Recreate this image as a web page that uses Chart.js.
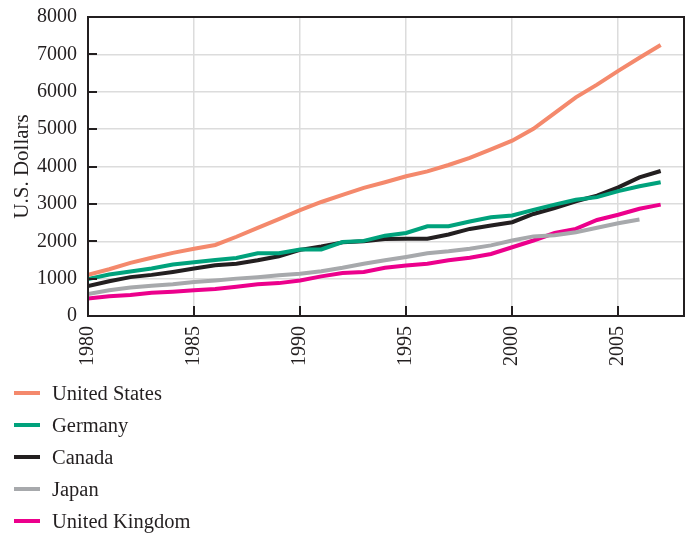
<!DOCTYPE html>
<html><head><meta charset="utf-8">
<script src="https://cdn.jsdelivr.net/npm/chart.js@4/dist/chart.umd.min.js"></script>
<style>
html,body{margin:0;padding:0;background:#fff;}
#wrap{position:relative;width:691px;height:535px;}
canvas{position:absolute;left:0;top:0;}
#legend{position:absolute;left:14px;top:377px;font-family:"Liberation Serif",serif;font-size:20.5px;color:#231f20;}
.item{display:flex;align-items:center;height:32px;white-space:nowrap;}
.sw{width:26px;height:4px;margin-right:12px;}
</style></head><body>
<div id="wrap"><canvas id="c" width="691" height="535"></canvas><div id="legend"></div></div>
<script>
const years = [1980,1981,1982,1983,1984,1985,1986,1987,1988,1989,1990,1991,1992,1993,1994,1995,1996,1997,1998,1999,2000,2001,2002,2003,2004,2005,2006,2007];
const unitedStates = [1100,1250,1420,1560,1690,1800,1900,2120,2360,2590,2830,3050,3240,3430,3580,3740,3870,4040,4230,4460,4690,5010,5430,5850,6190,6560,6910,7250];
const germany = [990,1110,1190,1270,1380,1440,1500,1550,1680,1680,1780,1780,1980,2010,2150,2220,2400,2400,2530,2640,2690,2840,2980,3110,3180,3340,3470,3580];
const canada = [800,930,1040,1100,1180,1270,1360,1400,1490,1600,1770,1860,1970,2000,2060,2070,2070,2180,2330,2420,2510,2730,2890,3070,3220,3440,3710,3880];
const japan = [590,690,760,810,850,910,950,1000,1040,1090,1130,1200,1290,1400,1490,1580,1680,1730,1800,1890,2020,2130,2160,2240,2360,2480,2580];
const unitedKingdom = [470,530,560,620,650,690,720,780,850,880,950,1060,1150,1180,1290,1350,1400,1490,1560,1660,1840,2020,2220,2330,2570,2710,2870,2980];
const seriesNames = ["United States","Germany","Canada","Japan","United Kingdom"];
const xTickLabels = [1980,1985,1990,1995,2000,2005];
const yTickLabels = [0,1000,2000,3000,4000,5000,6000,7000,8000];

const colors = ["#f4896c","#00a27c","#231f20","#a7a9ac","#ec008c"];
const seriesValues = [unitedStates, germany, canada, japan, unitedKingdom];
const FONT = '"Liberation Serif", "Times New Roman", serif';
const INK = '#231f20';

const datasets = seriesNames.map((name, k) => ({
  label: name,
  data: seriesValues[k].map((v, i) => ({x: years[i], y: v})),
  borderColor: colors[k],
  backgroundColor: colors[k],
  borderWidth: 4,
  pointRadius: 0,
  tension: 0,
  fill: false
}));

const frame = {
  id: 'frame',
  afterDatasetsDraw(chart) {
    const {ctx, chartArea: a, scales: {x, y}} = chart;
    ctx.save();
    ctx.strokeStyle = INK;
    ctx.lineWidth = 2;
    ctx.strokeRect(a.left, a.top, a.right - a.left, a.bottom - a.top);
    ctx.beginPath();
    y.ticks.forEach(t => {
      if (t.value > 0 && t.value < 8000) {
        const py = Math.round(y.getPixelForValue(t.value));
        ctx.moveTo(a.left, py); ctx.lineTo(a.left + 9, py);
      }
    });
    x.ticks.forEach(t => {
      if (t.value > 1980) {
        const px = Math.round(x.getPixelForValue(t.value));
        ctx.moveTo(px, a.bottom); ctx.lineTo(px, a.bottom - 10);
      }
    });
    ctx.stroke();
    ctx.restore();
  }
};

const chart = new Chart(document.getElementById('c'), {
  type: 'line',
  data: {datasets},
  plugins: [frame],
  options: {
    responsive: false,
    animation: false,
    devicePixelRatio: 1,
    layout: {padding: {left: 0, top: 17, right: 7, bottom: 169}},
    plugins: {legend: {display: false}, tooltip: {enabled: false}},
    scales: {
      x: {
        type: 'linear', min: 1980, max: 2008.1,
        afterBuildTicks: s => { s.ticks = xTickLabels.map(v => ({value: v})); },
        afterFit: s => { s.height = 50; s.paddingLeft = 0; s.paddingRight = 0; },
        grid: {color: '#dcdcdc', lineWidth: 1.5, drawTicks: false},
        border: {display: false},
        ticks: {minRotation: 90, maxRotation: 90, padding: 10, autoSkip: false,
                font: {family: FONT, size: 20}, color: INK, callback: v => String(v)}
      },
      y: {
        min: 0, max: 8000,
        afterBuildTicks: s => { s.ticks = yTickLabels.map(v => ({value: v})); },
        afterFit: s => { s.width = 88; s.paddingTop = 0; s.paddingBottom = 0; },
        grid: {color: '#dcdcdc', lineWidth: 1.5, drawTicks: false},
        border: {display: false},
        ticks: {padding: 11, font: {family: FONT, size: 20}, color: INK, callback: v => String(v)},
        title: {display: true, text: 'U.S. Dollars', font: {family: FONT, size: 21}, color: INK, padding: {top: 10, bottom: 0}}
      }
    }
  }
});

const lg = document.getElementById('legend');
chart.data.datasets.forEach(ds => {
  const row = document.createElement('div'); row.className = 'item';
  const sw = document.createElement('span'); sw.className = 'sw'; sw.style.background = ds.borderColor;
  const tx = document.createElement('span'); tx.textContent = ds.label;
  row.appendChild(sw); row.appendChild(tx); lg.appendChild(row);
});
</script>
</body></html>
